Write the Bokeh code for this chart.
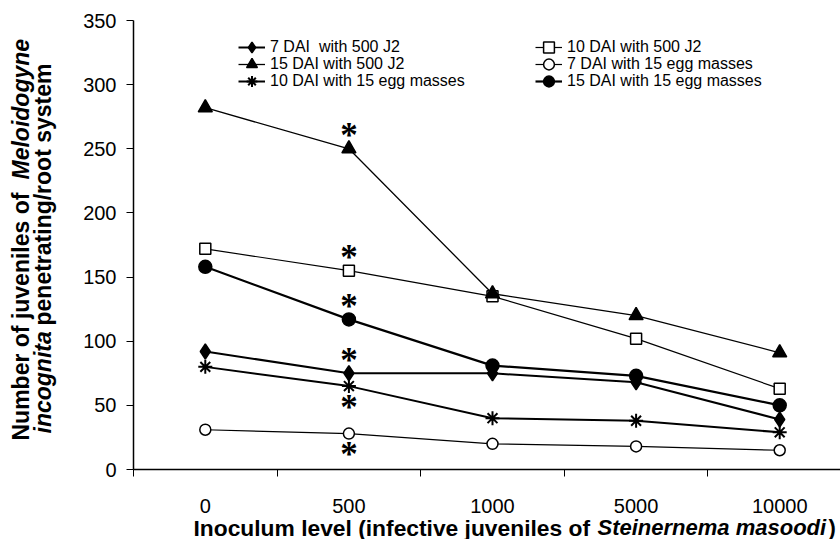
from math import pi
from bokeh.plotting import figure
from bokeh.models import ColumnDataSource, Range1d, FixedTicker, Legend, LegendItem, Label
from bokeh.core.properties import value
from bokeh.embed import file_html
from bokeh.resources import INLINE

# ---------------- data ----------------
inoculum = ["0", "500", "1000", "5000", "10000"]
dai7_j2 = [92, 75, 75, 68, 39]
dai10_j2 = [172, 155, 135, 102, 63]
dai15_j2 = [282, 250, 137, 120, 91]
dai7_egg = [31, 28, 20, 18, 15]
dai10_egg = [80, 65, 40, 38, 29]
dai15_egg = [158, 117, 81, 73, 50]

series_names = ["7 DAI  with 500 J2", "10 DAI with 500 J2", "15 DAI with 500 J2",
                "7 DAI with 15 egg masses", "10 DAI with 15 egg masses", "15 DAI with 15 egg masses"]
series_values = [dai7_j2, dai10_j2, dai15_j2, dai7_egg, dai10_egg, dai15_egg]
# significance marks at inoculum 500: above or below each series' point
sig_level = "500"
sig_side = ["above", "above", "above", "below", "below", "above"]

# ---------------- styles ----------------
markers = ["diamond", "square", "triangle", "circle", "asterisk", "circle"]
fills = ["black", "white", "black", "white", "black", "black"]
msizes = [15, 11, 14, 11, 14, 13]
lwidths = [2.0, 1.2, 1.3, 1.2, 2.0, 2.2]
FONT = "Liberation Sans"

W, H = 840, 539
PX_LEFT, PX_UNIT = 133, 143.6      # pixel of category edge -0.5, pixels per category
PY_ZERO, PY_UNIT = 469, 449 / 350  # pixel of y = 0, pixels per unit

xi = list(range(len(inoculum)))
x_start = -0.5 - PX_LEFT / PX_UNIT
x_end = -0.5 + (W - PX_LEFT) / PX_UNIT
y_start = -(H - PY_ZERO) / PY_UNIT
y_end = PY_ZERO / PY_UNIT

p = figure(width=W, height=H, output_backend="svg", toolbar_location=None,
           x_range=Range1d(x_start, x_end), y_range=Range1d(y_start, y_end),
           min_border=0)
p.outline_line_color = None
p.grid.visible = False
p.background_fill_color = "white"
p.border_fill_color = "white"

renderers = []
for vals, mk, fc, ms, lw in zip(series_values, markers, fills, msizes, lwidths):
    src = ColumnDataSource(dict(x=xi, y=vals))
    lr = p.line("x", "y", source=src, line_color="black", line_width=lw)
    sr = p.scatter("x", "y", source=src, marker=mk, size=ms, fill_color=fc,
                   line_color="black", line_width=1.5 if mk != "asterisk" else 2)
    renderers.append((lr, sr))

# significance asterisks
k = inoculum.index(sig_level)
sig_src = ColumnDataSource(dict(
    x=[k] * len(series_values),
    y=[v[k] for v in series_values],
    yo=[-13 if s == "above" else 21 for s in sig_side],
    t=["*"] * len(series_values)))
p.text("x", "y", text="t", y_offset="yo", source=sig_src, text_font=value("Liberation Serif"),
       text_font_style="bold", text_font_size="35px", text_align="center",
       text_baseline="alphabetic", text_color="black")

# axes (drawn at fixed data locations, limited by bounds)
xa = p.xaxis[0]
xa.fixed_location = 0
xa.bounds = (-0.5, x_end)
xa.ticker = FixedTicker(ticks=xi, minor_ticks=[i - 0.5 for i in range(len(inoculum) + 1)])
xa.major_label_overrides = {i: lab for i, lab in enumerate(inoculum)}
xa.major_tick_out = 0
xa.major_tick_in = 0
xa.minor_tick_out = 7
xa.minor_tick_in = 0
xa.minor_tick_line_color = "black"
xa.axis_line_width = 1.5
xa.axis_line_color = "black"
xa.major_label_text_font = FONT
xa.major_label_text_font_size = "20px"
xa.major_label_text_color = "black"
xa.major_label_standoff = 22

ya = p.yaxis[0]
ya.fixed_location = -0.5
ya.bounds = (0, 350)
ya.ticker = FixedTicker(ticks=list(range(0, 351, 50)))
ya.major_tick_out = 7
ya.major_tick_in = 0
ya.minor_tick_line_color = None
ya.axis_line_width = 1.5
ya.axis_line_color = "black"
ya.major_tick_line_color = "black"
ya.major_label_text_font = FONT
ya.major_label_text_font_size = "20px"
ya.major_label_text_color = "black"
ya.major_label_standoff = 10

# legend: two columns of three rows, one single-item legend per entry
GH = 30
col_x = [238, 535]
row_cy = [46.5, 63.5, 80.5]
layout_order = [(0, 0), (1, 0), (0, 1), (1, 1), (0, 2), (1, 2)]  # (column, row) per series
for i, (c, r) in enumerate(layout_order):
    lg = Legend(items=[LegendItem(label=series_names[i], renderers=list(renderers[i]))],
                location=(col_x[c], H - row_cy[r] - GH / 2), orientation="vertical",
                glyph_width=27, glyph_height=GH, spacing=0, padding=0, margin=0,
                label_standoff=5, label_text_font=FONT, label_text_font_size="16px",
                label_text_color="black", background_fill_alpha=0, border_line_alpha=0)
    p.add_layout(lg, "center")

# axis titles (mixed upright / italic), screen pixels from bottom-left
def lab(x, y, text, style, size, angle=0.0):
    p.add_layout(Label(x=x, y=y, x_units="screen", y_units="screen", text=text,
                       text_font=FONT, text_font_size=size, text_font_style=style,
                       text_color="black", text_align="left", text_baseline="alphabetic",
                       angle=angle))

lab(193, 12, "Inoculum level (infective juveniles of", "bold", "22.8px")
lab(597, 12, "Steinernema masoodi", "bold italic", "22px")
lab(828, 12, ")", "bold", "22px")

lab(20, 99, "Number of juveniles of", "bold", "23px", pi / 2)
lab(20, 360, "Meloidogyne", "bold italic", "23px", pi / 2)
lab(42, 106, "incognita", "bold italic", "23px", pi / 2)
lab(42, 214, "penetrating/root system", "bold", "23px", pi / 2)

open("out.html", "w").write(file_html(p, INLINE))
